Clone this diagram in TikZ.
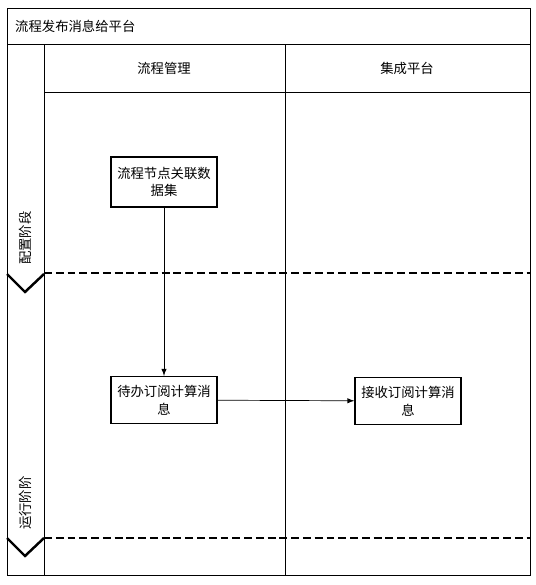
\documentclass[tikz,border=0pt]{standalone}
\usepackage{fontspec}
\newfontfamily\cjk{Noto Sans CJK SC}
\tikzset{
  passo/.style={draw, line width=0.7pt, align=center, minimum width=2.12cm, font=\cjk\fontsize{7.6}{10}\selectfont},
  fase/.style={rotate=90, anchor=west, font=\cjk\fontsize{7.6}{10}\selectfont},
  confine/.style={line width=1.2pt, dash pattern=on 4.5pt off 2.2pt},
}
\begin{document}
\begin{tikzpicture}[x=0.02cm, y=-0.02cm, font=\cjk\fontsize{7.6}{10}\selectfont]
\useasboundingbox (0,0) rectangle (536,585);
% Cornice e corsie
\draw (7,8) rectangle (530,575);
\draw (7,44) -- (530,44);
\draw (44,44) -- (44,575);
\draw (44,92) -- (530,92);
\draw (285,44) -- (285,575);
\node[anchor=west] (titolo) at (9,26) {流程发布消息给平台};
\node (corsia1) at (164,68) {流程管理};
\node (corsia2) at (407,68) {集成平台};
% Fasi
\draw[line width=1.4pt] (7,274) -- (25,292) -- (44,274);
\draw[line width=1.4pt] (7,538) -- (25,556) -- (44,538);
\draw[confine] (44,273) -- (530,273);
\draw[confine] (44,538) -- (530,538);
\node[fase] (fase1) at (25,271) {配置阶段};
\node[fase] (fase2) at (25,536) {运行阶阶};
% Attivita
\node[passo, minimum height=1cm] (dati) at (164,182) {流程节点关联数\\据集};
\node[passo, minimum height=0.94cm] (invio) at (164,400) {待办订阅计算消\\息};
\node[passo, minimum height=0.94cm] (ricevi) at (408,401) {接收订阅计算消\\息};
\draw[-latex] (dati) -- (invio);
\draw[-latex] (invio) -- (ricevi);
\end{tikzpicture}
\end{document}
